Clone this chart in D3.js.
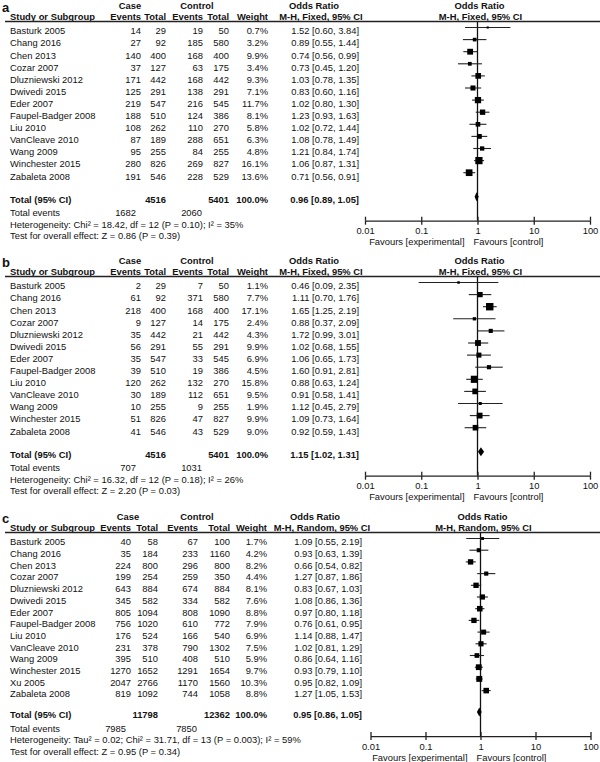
<!DOCTYPE html>
<html lang="en">
<head>
<meta charset="utf-8">
<title>Forest plots</title>
<script src="https://cdn.jsdelivr.net/npm/d3@7"></script>
<style>
  body { margin: 0; background: #fff; }
  svg text { font-family: "Liberation Sans", Arial, sans-serif; fill: #111; }
</style>
</head>
<body>
<script>
// ---- data ----
const studiesAB = ["Basturk 2005", "Chang 2016", "Chen 2013", "Cozar 2007", "Dluzniewski 2012",
  "Dwivedi 2015", "Eder 2007", "Faupel-Badger 2008", "Liu 2010", "VanCleave 2010",
  "Wang 2009", "Winchester 2015", "Zabaleta  2008"];
const studiesC = ["Basturk 2005", "Chang 2016", "Chen 2013", "Cozar 2007", "Dluzniewski 2012",
  "Dwivedi 2015", "Eder 2007", "Faupel-Badger 2008", "Liu 2010", "VanCleave 2010",
  "Wang 2009", "Winchester 2015", "Xu 2005", "Zabaleta  2008"];

// panel a
const aCaseEvents = [14, 27, 140, 37, 171, 125, 219, 188, 108, 87, 95, 280, 191];
const aCaseTotal  = [29, 92, 400, 127, 442, 291, 547, 510, 262, 189, 255, 826, 546];
const aCtrlEvents = [19, 185, 168, 63, 168, 138, 216, 124, 110, 288, 84, 269, 228];
const aCtrlTotal  = [50, 580, 400, 175, 442, 291, 545, 386, 270, 651, 255, 827, 529];
const aWeight = [0.7, 3.2, 9.9, 3.4, 9.3, 7.1, 11.7, 8.1, 5.8, 6.3, 4.8, 16.1, 13.6];
const aOR   = [1.52, 0.89, 0.74, 0.73, 1.03, 0.83, 1.02, 1.23, 1.02, 1.08, 1.21, 1.06, 0.71];
const aLow  = [0.60, 0.55, 0.56, 0.45, 0.78, 0.60, 0.80, 0.93, 0.72, 0.78, 0.84, 0.87, 0.56];
const aHigh = [3.84, 1.44, 0.99, 1.20, 1.35, 1.16, 1.30, 1.63, 1.44, 1.49, 1.74, 1.31, 0.91];
const aTotals = [4516, 5401];
const aTotalEvents = [1682, 2060];
const aPooled = [0.96, 0.89, 1.05];
const aHet = "Heterogeneity: Chi\u00b2 = 18.42, df = 12 (P = 0.10); I\u00b2 = 35%";
const aTest = "Test for overall effect: Z = 0.86 (P = 0.39)";

// panel b
const bCaseEvents = [2, 61, 218, 9, 35, 56, 35, 39, 120, 30, 10, 51, 41];
const bCaseTotal  = [29, 92, 400, 127, 442, 291, 547, 510, 262, 189, 255, 826, 546];
const bCtrlEvents = [7, 371, 168, 14, 21, 55, 33, 19, 132, 112, 9, 47, 43];
const bCtrlTotal  = [50, 580, 400, 175, 442, 291, 545, 386, 270, 651, 255, 827, 529];
const bWeight = [1.1, 7.7, 17.1, 2.4, 4.3, 9.9, 6.9, 4.5, 15.8, 9.5, 1.9, 9.9, 9.0];
const bOR   = [0.46, 1.11, 1.65, 0.88, 1.72, 1.02, 1.06, 1.60, 0.88, 0.91, 1.12, 1.09, 0.92];
const bLow  = [0.09, 0.70, 1.25, 0.37, 0.99, 0.68, 0.65, 0.91, 0.63, 0.58, 0.45, 0.73, 0.59];
const bHigh = [2.35, 1.76, 2.19, 2.09, 3.01, 1.55, 1.73, 2.81, 1.24, 1.41, 2.79, 1.64, 1.43];
const bTotals = [4516, 5401];
const bTotalEvents = [707, 1031];
const bPooled = [1.15, 1.02, 1.31];
const bHet = "Heterogeneity: Chi\u00b2 = 16.32, df = 12 (P = 0.18); I\u00b2 = 26%";
const bTest = "Test for overall effect: Z = 2.20 (P = 0.03)";

// panel c
const cCaseEvents = [40, 35, 224, 199, 643, 345, 805, 756, 176, 231, 395, 1270, 2047, 819];
const cCaseTotal  = [58, 184, 800, 254, 884, 582, 1094, 1020, 524, 378, 510, 1652, 2766, 1092];
const cCtrlEvents = [67, 233, 296, 259, 674, 334, 808, 610, 166, 790, 408, 1291, 1170, 744];
const cCtrlTotal  = [100, 1160, 800, 350, 884, 582, 1090, 772, 540, 1302, 510, 1654, 1560, 1058];
const cWeight = [1.7, 4.2, 8.2, 4.4, 8.1, 7.6, 8.8, 7.9, 6.9, 7.5, 5.9, 9.7, 10.3, 8.8];
const cOR   = [1.09, 0.93, 0.66, 1.27, 0.83, 1.08, 0.97, 0.76, 1.14, 1.02, 0.86, 0.93, 0.95, 1.27];
const cLow  = [0.55, 0.63, 0.54, 0.87, 0.67, 0.86, 0.80, 0.61, 0.88, 0.81, 0.64, 0.79, 0.82, 1.05];
const cHigh = [2.19, 1.39, 0.82, 1.86, 1.03, 1.36, 1.18, 0.95, 1.47, 1.29, 1.16, 1.10, 1.09, 1.53];
const cTotals = [11798, 12362];
const cTotalEvents = [7985, 7850];
const cPooled = [0.95, 0.86, 1.05];
const cHet = "Heterogeneity: Tau\u00b2 = 0.02; Chi\u00b2 = 31.71, df = 13 (P = 0.003); I\u00b2 = 59%";
const cTest = "Test for overall effect: Z = 0.95 (P = 0.34)";

const axisTicks = [0.01, 0.1, 1, 10, 100];
const axisTickLabels = ["0.01", "0.1", "1", "10", "100"];

// ---- layout ----
const width = 600, height = 762;
const fs = 9.4;

const colsAB = { caseMid: 130, ctrlMid: 197, ce: 141, ct: 166, ke: 203, kt: 229, w: 268,
                 orMid: 314, mhMid: 321, or: 359 };
const colsC  = { caseMid: 128, ctrlMid: 197, ce: 131, ct: 158, ke: 198, kt: 230, w: 267,
                 orMid: 315, mhMid: 322, or: 362 };

const panels = [
  { label: "a", method: "M-H, Fixed, 95% CI", studies: studiesAB,
    ce: aCaseEvents, ct: aCaseTotal, ke: aCtrlEvents, kt: aCtrlTotal, w: aWeight,
    or: aOR, lo: aLow, hi: aHigh, totals: aTotals, events: aTotalEvents, pooled: aPooled,
    het: aHet, test: aTest,
    top: 0, step: 12.1, gap: 24, xRange: [365, 590], cols: colsAB },
  { label: "b", method: "M-H, Fixed, 95% CI", studies: studiesAB,
    ce: bCaseEvents, ct: bCaseTotal, ke: bCtrlEvents, kt: bCtrlTotal, w: bWeight,
    or: bOR, lo: bLow, hi: bHigh, totals: bTotals, events: bTotalEvents, pooled: bPooled,
    het: bHet, test: bTest,
    top: 255, step: 12.1, gap: 24, xRange: [365, 590], cols: colsAB },
  { label: "c", method: "M-H, Random, 95% CI", studies: studiesC,
    ce: cCaseEvents, ct: cCaseTotal, ke: cCtrlEvents, kt: cCtrlTotal, w: cWeight,
    or: cOR, lo: cLow, hi: cHigh, totals: cTotals, events: cTotalEvents, pooled: cPooled,
    het: cHet, test: cTest,
    top: 511, step: 11.7, gap: 21.5, xRange: [370.5, 590.5], cols: colsC }
];

const svg = d3.select("body")
  .append("svg")
  .attr("width", width)
  .attr("height", height);

const fmt2 = d3.format(".2f");

panels.forEach(p => drawPanel(p));

function drawPanel(p) {
  const g = svg.append("g").attr("transform", "translate(0," + p.top + ")");
  const c = p.cols;
  const x = d3.scaleLog().domain([0.01, 100]).range(p.xRange);
  const n = p.studies.length;
  const rowY = d3.scaleLinear().domain([0, 1]).range([27.5, 27.5 + p.step]);
  const D = rowY(n - 1) + p.gap;   // pooled diamond centre
  const axisY = D + 24;

  const txt = (xx, yy, t, anchor, bold) => g.append("text")
    .attr("x", xx).attr("y", yy)
    .attr("text-anchor", anchor || "start")
    .attr("font-size", fs)
    .attr("font-weight", bold ? "bold" : "normal")
    .text(t);

  // panel letter
  g.append("text").attr("x", 2).attr("y", 12)
    .attr("font-size", 13).attr("font-weight", "bold").text(p.label);

  // headers
  txt(c.caseMid, 8.5, "Case", "middle", true);
  txt(c.ctrlMid, 8.5, "Control", "middle", true);
  txt(c.orMid, 8.5, "Odds Ratio", "middle", true);
  txt(x(1) + 2, 8.5, "Odds Ratio", "middle", true);
  txt(10, 20, "Study or Subgroup", "start", true);
  txt(c.ce, 20, "Events", "end", true);
  txt(c.ct, 20, "Total", "end", true);
  txt(c.ke, 20, "Events", "end", true);
  txt(c.kt, 20, "Total", "end", true);
  txt(c.w, 20, "Weight", "end", true);
  txt(c.mhMid, 20, p.method, "middle", true);
  txt(x(1) + 3, 20, p.method, "middle", true);

  g.append("line")
    .attr("x1", 5).attr("x2", width)
    .attr("y1", 21.5).attr("y2", 21.5)
    .attr("stroke", "#222").attr("stroke-width", 1.3);

  // study rows
  p.studies.forEach((s, i) => {
    const ty = rowY(i) + 6.8;
    txt(10, ty, s);
    txt(c.ce, ty, p.ce[i], "end");
    txt(c.ct, ty, p.ct[i], "end");
    txt(c.ke, ty, p.ke[i], "end");
    txt(c.kt, ty, p.kt[i], "end");
    txt(c.w, ty, p.w[i].toFixed(1) + "%", "end");
    txt(c.or, ty, fmt2(p.or[i]) + " [" + fmt2(p.lo[i]) + ", " + fmt2(p.hi[i]) + "]", "end");
  });

  // totals
  const tb = D + 6;
  txt(10, tb, "Total (95% CI)", "start", true);
  txt(c.ct, tb, p.totals[0], "end", true);
  txt(c.kt, tb, p.totals[1], "end", true);
  txt(c.w, tb, "100.0%", "end", true);
  txt(c.or, tb, fmt2(p.pooled[0]) + " [" + fmt2(p.pooled[1]) + ", " + fmt2(p.pooled[2]) + "]", "end", true);
  txt(10, D + 19.5, "Total events");
  txt(c.ce - 5, D + 19.5, p.events[0], "end");
  txt(c.ke - 1, D + 19.5, p.events[1], "end");
  txt(10, D + 31, p.het);
  txt(10, D + 42.5, p.test);

  // line of no effect
  g.append("line")
    .attr("x1", x(1)).attr("x2", x(1))
    .attr("y1", 21.5).attr("y2", axisY)
    .attr("stroke", "#111").attr("stroke-width", 1.3);

  // confidence intervals
  g.selectAll("line.ci")
    .data(p.or)
    .join("line")
    .attr("class", "ci")
    .attr("x1", (d, i) => x(p.lo[i]))
    .attr("x2", (d, i) => x(p.hi[i]))
    .attr("y1", (d, i) => rowY(i))
    .attr("y2", (d, i) => rowY(i))
    .attr("stroke", "#222").attr("stroke-width", 1.1);

  // weight boxes
  const side = w => 0.8 + 1.6 * Math.sqrt(w);
  g.selectAll("rect.box")
    .data(p.or)
    .join("rect")
    .attr("class", "box")
    .attr("x", (d, i) => x(d) - side(p.w[i]) / 2)
    .attr("y", (d, i) => rowY(i) - side(p.w[i]) / 2)
    .attr("width", (d, i) => side(p.w[i]))
    .attr("height", (d, i) => side(p.w[i]))
    .attr("fill", "#000");

  // pooled diamond
  const [po, pl, ph] = p.pooled;
  g.append("path")
    .attr("d", d3.line()([[x(pl), D], [x(po), D - 4.5], [x(ph), D], [x(po), D + 4.5]]) + "Z")
    .attr("fill", "#000");

  // axis
  const bottom = d3.axisBottom(x)
    .tickValues(axisTicks)
    .tickFormat((d, i) => axisTickLabels[i])
    .tickSize(4).tickSizeOuter(0).tickPadding(3);
  const ga = g.append("g")
    .attr("transform", "translate(0," + axisY + ")")
    .call(bottom);
  ga.selectAll("text").attr("font-size", fs).attr("font-family", null);
  ga.selectAll("line, path").attr("stroke", "#222").attr("stroke-width", 1.3);

  const topTicks = d3.axisTop(x)
    .tickValues(axisTicks)
    .tickFormat("")
    .tickSize(4).tickSizeOuter(0);
  const gt = g.append("g")
    .attr("transform", "translate(0," + axisY + ")")
    .call(topTicks);
  gt.select(".domain").remove();
  gt.selectAll("line").attr("stroke", "#222").attr("stroke-width", 1.3);

  txt(x(1) - 13, D + 48.5, "Favours [experimental]", "end");
  txt(x(1) - 4, D + 48.5, "Favours [control]", "start");
}
</script>
</body>
</html>
